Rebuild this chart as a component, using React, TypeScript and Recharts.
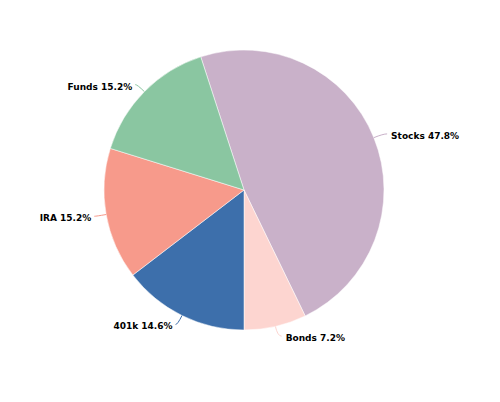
import React from "react";
import { PieChart, Pie, Cell } from "recharts";

const categories = ["Stocks", "Bonds", "401k", "IRA", "Funds"];
const shares = [47.8, 7.2, 14.6, 15.2, 15.2];
const colors = ["#c9b1c9", "#fdd5d0", "#3d6fab", "#f79a8b", "#8ac6a1"];

const data = categories.map((name, i) => ({ name, value: shares[i] }));

const RADIAN = Math.PI / 180;

const renderLabel = (props: any) => {
  const { cx, cy, midAngle, outerRadius, name, value, index } = props;
  const cos = Math.cos(-midAngle * RADIAN);
  const sin = Math.sin(-midAngle * RADIAN);
  const right = cos >= 0;
  const x0 = cx + outerRadius * cos;
  const y0 = cy + outerRadius * sin;
  const r2 = outerRadius + 10;
  const x1 = cx + r2 * cos;
  const y1 = cy + r2 * sin;
  const x2 = x1 + (right ? 4 : -2);
  const y2 = y1;
  const tx = x2 + (right ? 4 : -3);
  return (
    <g key={`lbl-${index}`}>
      <path
        d={`M${x0},${y0} Q${x1},${y1} ${x2},${y2}`}
        stroke={colors[index]}
        strokeWidth={1}
        fill="none"
      />
      <text
        x={tx}
        y={y2 + 2}
        textAnchor={right ? "start" : "end"}
        dominantBaseline="central"
        fontFamily="'DejaVu Sans', Verdana, sans-serif"
        fontWeight="bold"
        fontSize={9}
        fill="#000"
      >
        {`${name} ${Number(value).toFixed(1)}%`}
      </text>
    </g>
  );
};

export default function App() {
  return (
    <div style={{ position: "absolute", left: 0, top: 0, width: 500, height: 402, background: "#fff" }}>
      <PieChart width={500} height={402} margin={{ top: 0, right: 0, bottom: 0, left: 0 }}>
        <Pie
          data={data}
          dataKey="value"
          nameKey="name"
          cx={244}
          cy={190}
          outerRadius={140}
          startAngle={108}
          endAngle={-252}
          stroke="#fff"
          strokeWidth={0.5}
          label={renderLabel}
          labelLine={false}
          isAnimationActive={false}
        >
          {data.map((d, i) => (
            <Cell key={d.name} fill={colors[i]} />
          ))}
        </Pie>
      </PieChart>
    </div>
  );
}
